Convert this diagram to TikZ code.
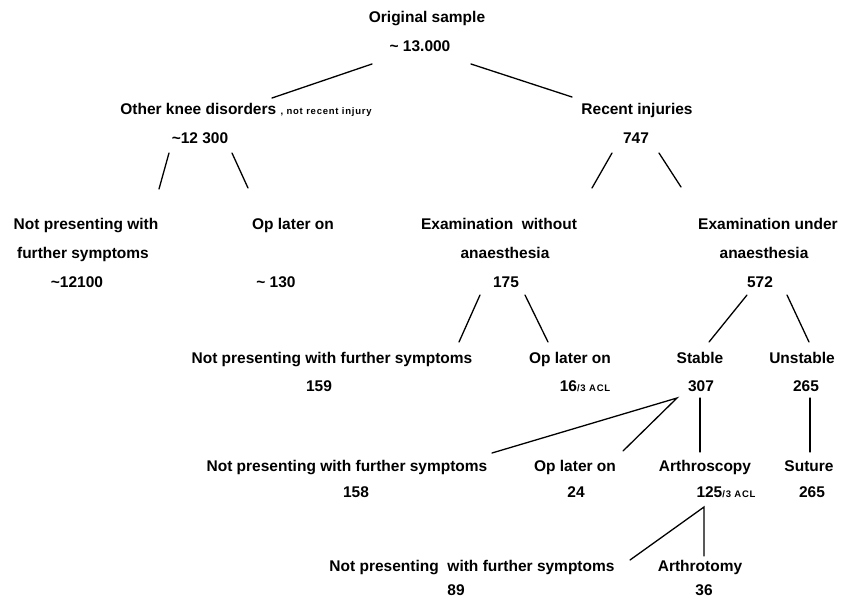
\documentclass[tikz,border=0pt]{standalone}
\usepackage{fontspec}
\setmainfont{Liberation Sans}
\newfontfamily\smallfont{Liberation Sans}[LetterSpace=8]
\usetikzlibrary{calc}
\begin{document}
\begin{tikzpicture}[x=1pt,y=-1pt,
  lbl/.style={inner sep=0pt, font=\fontsize{15.5}{18}\selectfont\bfseries, text height=11pt, text depth=3pt},
  link/.style={line width=1.3pt, line cap=round}]
\newcommand\smalltxt[1]{{\smallfont\fontsize{9.5}{11}\selectfont #1}}
\useasboundingbox (0,0) rectangle (841,603);
% level 0
\node[lbl] (orig) at (427,18) {Original sample};
\node[lbl] (root) at (420,47) {\textasciitilde{} 13.000};
% level 1
\node[lbl] (other) at (246,110) {Other knee disorders \smalltxt{, not recent injury}};
\node[lbl] (n12300) at (200,139) {\textasciitilde12 300};
\node[lbl] (recent) at (637,110) {Recent injuries};
\node[lbl] (n747) at (636,139) {747};
% level 2
\node[lbl] (npA) at (86,225) {Not presenting with};
\node[lbl] (npB) at (83,254) {further symptoms};
\node[lbl] (n12100) at (77,283) {\textasciitilde12100};
\node[lbl] (opA) at (293,225) {Op later on};
\node[lbl] (n130) at (276,283) {\textasciitilde\ 130};
\node[lbl] (exW) at (499,225) {Examination\ \ without};
\node[lbl] (exWb) at (505,254) {anaesthesia};
\node[lbl] (n175) at (506,283) {175};
\node[lbl] (exU) at (768,225) {Examination under};
\node[lbl] (exUb) at (764,254) {anaesthesia};
\node[lbl] (n572) at (760,283) {572};
% level 3
\node[lbl] (npD) at (332,359) {Not presenting with further symptoms};
\node[lbl] (n159) at (319,387) {159};
\node[lbl] (opD) at (570,359) {Op later on};
\node[lbl] (n16) at (585,387) {16\smalltxt{/3 ACL}};
\node[lbl] (stable) at (700,359) {Stable};
\node[lbl] (n307) at (701,387) {307};
\node[lbl] (unstable) at (802,359) {Unstable};
\node[lbl] (n265a) at (806,387) {265};
% level 4
\node[lbl] (npF) at (347,467) {Not presenting with further symptoms};
\node[lbl] (n158) at (356,493) {158};
\node[lbl] (opF) at (575,467) {Op later on};
\node[lbl] (n24) at (576,493) {24};
\node[lbl] (arsc) at (705,467) {Arthroscopy};
\node[lbl] (n125) at (726,493) {125\smalltxt{/3 ACL}};
\node[lbl] (suture) at (809,467) {Suture};
\node[lbl] (n265b) at (812,493) {265};
% level 5
\node[lbl] (npH) at (472,567) {Not presenting\ \ with further symptoms};
\node[lbl] (n89) at (456,591) {89};
\node[lbl] (artt) at (700,567) {Arthrotomy};
\node[lbl] (n36) at (704,591) {36};
% connectors
\draw[link] ($(root)+(-48,17)$) -- ($(other)+(26,-12)$);
\draw[link] ($(root)+(51,17)$) -- ($(recent)+(-65,-13)$);
\draw[link] ($(n12300)+(-31,14)$) -- ($(npA)+(73,-36)$);
\draw[link] ($(n12300)+(32,14)$) -- ($(opA)+(-45,-37)$);
\draw[link] ($(n747)+(-24,14)$) -- ($(exW)+(93,-37)$);
\draw[link] ($(n747)+(23,14)$) -- ($(exU)+(-87,-38)$);
\draw[link] ($(n175)+(-26,12)$) -- ($(npD)+(127,-17)$);
\draw[link] ($(n175)+(19,12)$) -- ($(opD)+(-22,-17)$);
\draw[link] ($(n572)+(-13,12)$) -- ($(stable)+(9,-17)$);
\draw[link] ($(n572)+(27,12)$) -- ($(unstable)+(7,-17)$);
\draw[link] ($(npF)+(145,-14)$) -- ($(n307)+(-24,11)$) -- ($(opF)+(48,-16)$);
\draw[link] ($(n307)+(-1,11)$) -- ($(arsc)+(-5,-15)$);
\draw[link] ($(n265a)+(4,11)$) -- ($(suture)+(1,-15)$);
\draw[link] ($(npH)+(158,-7)$) -- ($(n125)+(-22,14)$) -- ($(artt)+(4,-11)$);
\end{tikzpicture}
\end{document}
